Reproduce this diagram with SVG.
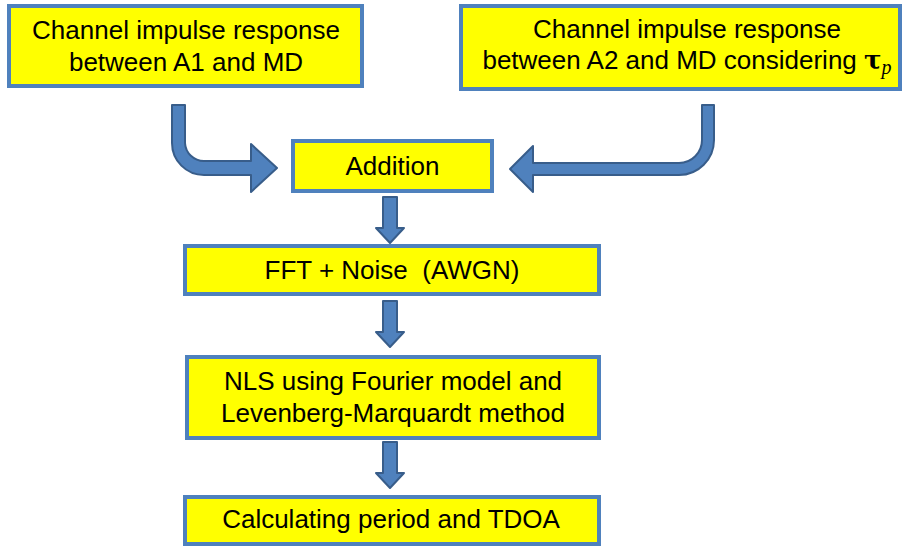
<svg xmlns="http://www.w3.org/2000/svg" width="903" height="547" viewBox="0 0 903 547">
<style>
.box{fill:#ffff00;stroke:#4f81bd;stroke-width:4}
.t{font-family:"Liberation Sans",Arial,sans-serif;font-size:26px;fill:#000;text-anchor:middle;white-space:pre}
.arr{fill:#4f81bd;stroke:#385d8a;stroke-width:2;stroke-linejoin:round}
</style>
<defs>
<path id="down" d="M383,0 H397 V31 H404 L390,46 L376,31 H383 Z"/>
</defs>
<rect width="903" height="547" fill="#fff"/>
<g id="connectors">
<path class="arr" d="M172,105 H185 V143 A19,19 0 0 0 204,161 H251 V144 L277,168 L251,192 V175 H204 A32,32 0 0 1 172,143 Z"/>
<path class="arr" d="M702,105 H714 V140 A35,35 0 0 1 679,175 H533 V192 L510,169 L533,146 V163 H679 A23,23 0 0 0 702,140 Z"/>
<use href="#down" class="arr" y="197"/>
<use href="#down" class="arr" y="301"/>
<use href="#down" class="arr" y="442"/>
</g>
<g id="a1">
<rect class="box" x="9" y="6" width="353" height="80"/>
<text class="t" x="186" y="39">Channel impulse response</text>
<text class="t" x="186" y="71">between A1 and MD</text>
</g>
<g id="a2">
<rect class="box" x="461" y="6" width="439" height="83"/>
<text class="t" x="687" y="38">Channel impulse response</text>
<text class="t" x="687" y="69">between A2 and MD considering <tspan font-family="'DejaVu Serif','Liberation Serif',serif" font-weight="bold">τ</tspan><tspan font-family="'Liberation Serif',serif" font-style="italic" font-size="20" dy="5">p</tspan></text>
</g>
<g id="addition">
<rect class="box" x="293" y="141" width="199" height="50"/>
<text class="t" x="392.5" y="175">Addition</text>
</g>
<g id="fft">
<rect class="box" x="185" y="246" width="414" height="48"/>
<text class="t" x="392" y="279">FFT + Noise  (AWGN)</text>
</g>
<g id="nls">
<rect class="box" x="187" y="357" width="412" height="81"/>
<text class="t" x="393" y="390">NLS using Fourier model and</text>
<text class="t" x="393" y="422">Levenberg-Marquardt method</text>
</g>
<g id="calc">
<rect class="box" x="185" y="497" width="414" height="47"/>
<text class="t" x="391" y="528">Calculating period and TDOA</text>
</g>
</svg>
